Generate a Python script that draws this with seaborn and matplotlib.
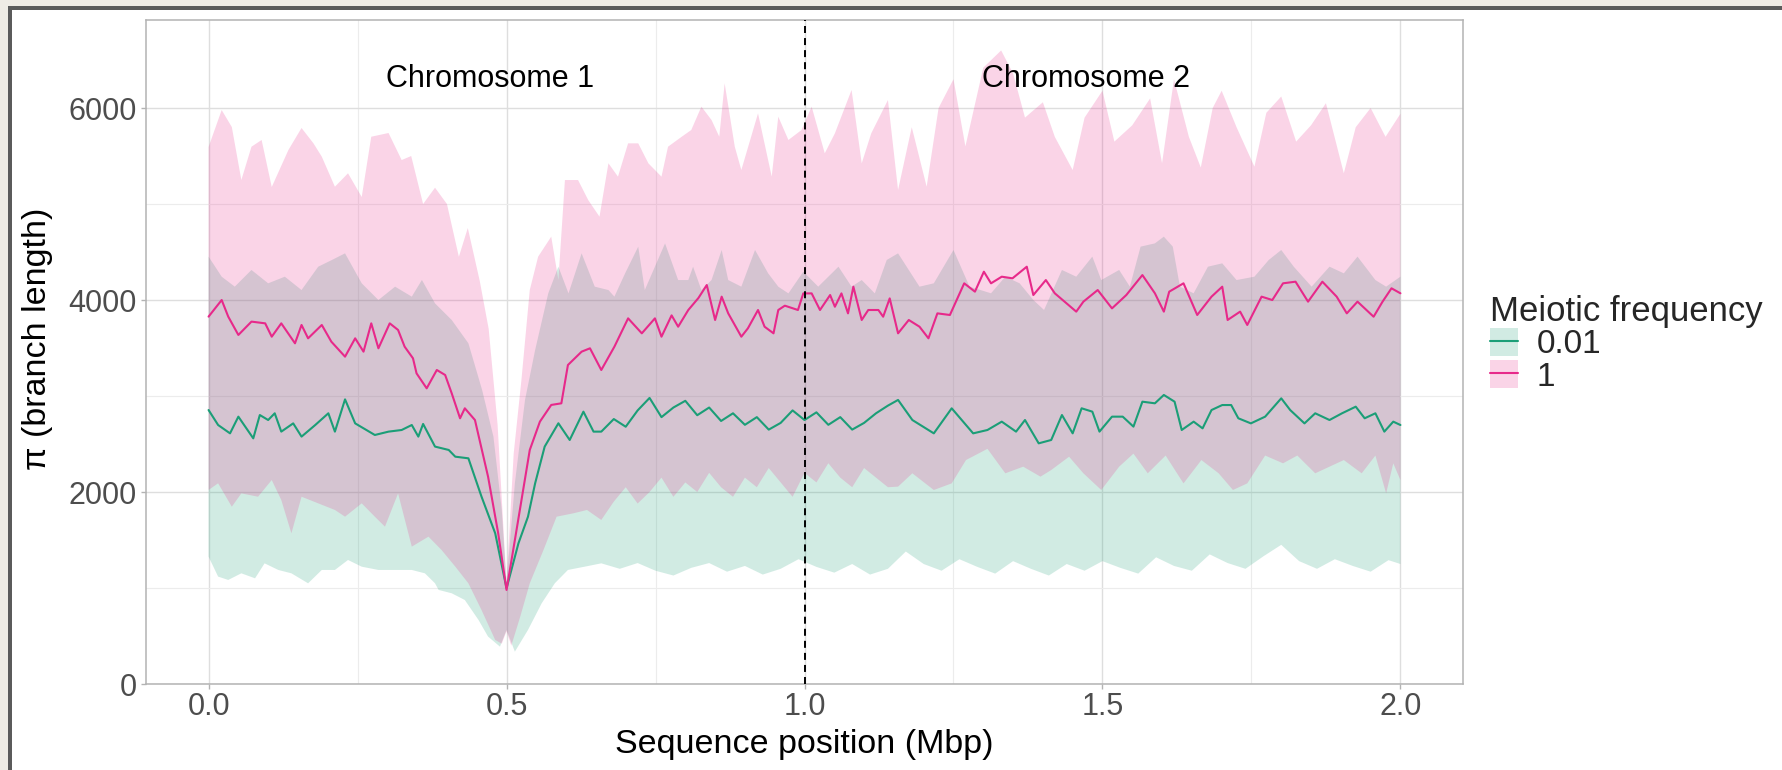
import numpy as np
import pandas as pd
import matplotlib
matplotlib.use("Agg")
import matplotlib.pyplot as plt
import seaborn as sns
from matplotlib.patches import Patch, Rectangle
from matplotlib.lines import Line2D

# ---------------- data ----------------
freq_labels = ["0.01", "1"]
line_colors = ["#1b9e77", "#e7298a"]

# mean pi, meiotic frequency 0.01
x_mean_001 = [0.000, 0.016, 0.036, 0.050, 0.075, 0.086, 0.100, 0.111, 0.122, 0.142, 0.156, 0.179,
              0.201, 0.212, 0.229, 0.246, 0.279, 0.302, 0.324, 0.341, 0.352, 0.360, 0.380, 0.403,
              0.414, 0.436, 0.458, 0.481, 0.500, 0.520, 0.536, 0.548, 0.564, 0.587, 0.606, 0.629,
              0.646, 0.659, 0.68, 0.70, 0.72, 0.74, 0.76, 0.78, 0.80, 0.82, 0.84, 0.86, 0.88, 0.90,
              0.92, 0.94, 0.96, 0.98, 1.00, 1.02, 1.04, 1.06, 1.08, 1.10, 1.12, 1.14, 1.157, 1.181,
              1.217, 1.247, 1.283, 1.307, 1.331, 1.355, 1.370, 1.393, 1.414, 1.432, 1.450, 1.465,
              1.483, 1.495, 1.516, 1.534, 1.552, 1.567, 1.588, 1.603, 1.621, 1.633, 1.653, 1.668,
              1.683, 1.701, 1.716, 1.728, 1.749, 1.773, 1.800, 1.815, 1.839, 1.857, 1.881, 1.902,
              1.925, 1.940, 1.958, 1.973, 1.988, 2.000]
y_mean_001 = [2854, 2698, 2611, 2785, 2559, 2802, 2750, 2820, 2629, 2715, 2577, 2698,
              2820, 2629, 2965, 2715, 2594, 2629, 2646, 2698, 2577, 2709, 2473, 2438,
              2368, 2351, 1952, 1570, 997, 1466, 1743, 2091, 2473, 2716, 2542, 2837,
              2629, 2629, 2760, 2680, 2850, 2980, 2780, 2880, 2950, 2800, 2880, 2740, 2820, 2700,
              2780, 2650, 2720, 2850, 2750, 2830, 2700, 2780, 2650, 2720, 2820, 2900, 2959, 2750,
              2611, 2872, 2611, 2646, 2733, 2629, 2750, 2507, 2542, 2802, 2611, 2872,
              2837, 2629, 2785, 2785, 2681, 2941, 2924, 3011, 2941, 2646, 2733, 2663,
              2854, 2906, 2906, 2768, 2715, 2785, 2976, 2854, 2715, 2820, 2750, 2820,
              2889, 2768, 2820, 2629, 2733, 2698]

# mean pi, meiotic frequency 1
x_mean_1 = [0.000, 0.022, 0.033, 0.050, 0.072, 0.095, 0.106, 0.122, 0.145, 0.156, 0.167, 0.190,
            0.206, 0.229, 0.246, 0.260, 0.273, 0.285, 0.304, 0.318, 0.329, 0.343, 0.349, 0.366,
            0.383, 0.397, 0.408, 0.422, 0.430, 0.447, 0.469, 0.486, 0.500, 0.514, 0.539, 0.556,
            0.575, 0.592, 0.603, 0.626, 0.640, 0.659, 0.681, 0.704, 0.727, 0.749, 0.760, 0.777,
            0.788, 0.805, 0.822, 0.836, 0.850, 0.861, 0.872, 0.894, 0.905, 0.922, 0.933, 0.948,
            0.956, 0.967, 0.989, 0.998, 1.012, 1.026, 1.043, 1.051, 1.062, 1.073, 1.082, 1.096,
            1.107, 1.124, 1.132, 1.143, 1.157, 1.175, 1.193, 1.208, 1.223, 1.244, 1.268, 1.286,
            1.301, 1.313, 1.331, 1.349, 1.373, 1.384, 1.405, 1.420, 1.456, 1.468, 1.492, 1.516,
            1.540, 1.567, 1.588, 1.603, 1.612, 1.636, 1.659, 1.683, 1.701, 1.710, 1.731, 1.743,
            1.767, 1.785, 1.803, 1.824, 1.845, 1.869, 1.893, 1.910, 1.928, 1.955, 1.970, 1.985,
            2.000]
y_mean_1 = [3827, 4000, 3827, 3636, 3775, 3757, 3618, 3757, 3549, 3740, 3601, 3740,
            3566, 3410, 3601, 3462, 3757, 3497, 3757, 3688, 3514, 3393, 3236, 3080,
            3271, 3219, 3028, 2768, 2872, 2750, 2160, 1570, 980, 1500, 2438, 2733,
            2907, 2924, 3323, 3462, 3497, 3271, 3514, 3809, 3653, 3809, 3618, 3840,
            3722, 3896, 4021, 4156, 3792, 4035, 3861, 3618, 3705, 3896, 3722, 3653,
            3896, 3941, 3896, 4069, 4069, 3896, 4052, 3930, 4069, 3861, 4139, 3792,
            3896, 3896, 3826, 4017, 3653, 3792, 3722, 3601, 3861, 3844, 4174, 4087,
            4295, 4174, 4243, 4226, 4347, 4052, 4208, 4070, 3879, 3983, 4104, 3913,
            4052, 4260, 4070, 3879, 4087, 4174, 3844, 4035, 4139, 3792, 3879, 3740,
            4035, 4000, 4174, 4191, 3983, 4191, 4035, 3861, 3983, 3826, 3983, 4122,
            4070]

# ribbon bounds, meiotic frequency 0.01
x_lo_001 = [0.000, 0.016, 0.033, 0.055, 0.078, 0.094, 0.117, 0.139, 0.167, 0.190, 0.212, 0.234,
            0.257, 0.285, 0.313, 0.341, 0.363, 0.380, 0.386, 0.408, 0.430, 0.453, 0.469, 0.489,
            0.500, 0.514, 0.536, 0.559, 0.581, 0.603, 0.631, 0.659, 0.69, 0.72, 0.75, 0.78,
            0.81, 0.84, 0.87, 0.90, 0.93, 0.96, 0.99, 1.02, 1.05, 1.08, 1.11, 1.14, 1.17, 1.20,
            1.23, 1.26, 1.29, 1.32, 1.35, 1.38, 1.41, 1.44, 1.47, 1.50, 1.53, 1.56, 1.59, 1.62,
            1.65, 1.68, 1.71, 1.74, 1.77, 1.80, 1.83, 1.86, 1.89, 1.92, 1.95, 1.98, 2.00]
y_lo_001 = [1327, 1119, 1084, 1153, 1101, 1257, 1188, 1153, 1049, 1188, 1188, 1292,
            1222, 1188, 1188, 1188, 1153, 1049, 980, 945, 875, 667, 494, 389,
            563, 337, 563, 841, 1049, 1188, 1222, 1257, 1200, 1260, 1180, 1130,
            1210, 1260, 1170, 1230, 1140, 1200, 1300, 1220, 1160, 1250, 1140, 1200, 1380, 1250,
            1180, 1300, 1220, 1150, 1280, 1200, 1130, 1250, 1180, 1280, 1210, 1150, 1320, 1230,
            1180, 1350, 1260, 1200, 1330, 1450, 1280, 1200, 1300, 1230, 1170, 1290, 1250]
x_hi_001 = [0.000, 0.022, 0.044, 0.072, 0.100, 0.128, 0.156, 0.184, 0.207, 0.229, 0.257, 0.285,
            0.313, 0.341, 0.358, 0.380, 0.408, 0.436, 0.459, 0.478, 0.492, 0.500, 0.514, 0.531,
            0.548, 0.570, 0.587, 0.604, 0.626, 0.648, 0.671, 0.681, 0.699, 0.721, 0.732, 0.749,
            0.766, 0.788, 0.805, 0.813, 0.827, 0.844, 0.861, 0.872, 0.894, 0.917, 0.939, 0.956,
            0.973, 0.998, 1.023, 1.040, 1.057, 1.079, 1.096, 1.118, 1.138, 1.157, 1.193, 1.217,
            1.250, 1.277, 1.313, 1.337, 1.361, 1.384, 1.402, 1.432, 1.456, 1.483, 1.498, 1.528,
            1.546, 1.564, 1.588, 1.603, 1.618, 1.630, 1.653, 1.677, 1.701, 1.725, 1.755, 1.779,
            1.800, 1.821, 1.851, 1.881, 1.905, 1.928, 1.958, 1.976, 2.000]
y_hi_001 = [4452, 4243, 4139, 4313, 4174, 4243, 4104, 4347, 4417, 4486, 4174, 4000,
            4139, 4035, 4209, 3965, 3792, 3549, 3063, 2577, 1813, 1049, 2091, 2959,
            3479, 4069, 4347, 4069, 4486, 4139, 4104, 4035, 4278, 4556, 4104, 4347,
            4590, 4208, 4208, 4347, 4104, 4208, 4521, 4208, 4139, 4521, 4278, 4139,
            4069, 4295, 4139, 4243, 4347, 4139, 4208, 4069, 4417, 4486, 4139, 4174,
            4521, 4139, 4070, 4243, 4174, 4000, 3896, 4313, 4243, 4452, 4208, 4313,
            4139, 4556, 4590, 4660, 4556, 4139, 4070, 4347, 4382, 4208, 4243, 4417,
            4521, 4347, 4139, 4347, 4278, 4452, 4208, 4139, 4243]

# ribbon bounds, meiotic frequency 1
x_lo_1 = [0.000, 0.016, 0.039, 0.055, 0.083, 0.106, 0.122, 0.139, 0.156, 0.184, 0.212, 0.229,
          0.257, 0.279, 0.296, 0.318, 0.341, 0.369, 0.391, 0.414, 0.436, 0.458, 0.481, 0.492,
          0.500, 0.508, 0.523, 0.539, 0.562, 0.584, 0.612, 0.635, 0.659, 0.68, 0.70, 0.72,
          0.74, 0.76, 0.78, 0.80, 0.82, 0.84, 0.86, 0.88, 0.90, 0.92, 0.94, 0.96, 0.98, 1.00,
          1.02, 1.04, 1.06, 1.08, 1.10, 1.12, 1.14, 1.157, 1.181, 1.217, 1.247, 1.271, 1.307,
          1.337, 1.367, 1.396, 1.414, 1.444, 1.468, 1.498, 1.528, 1.552, 1.576, 1.606, 1.636,
          1.666, 1.695, 1.719, 1.743, 1.773, 1.803, 1.827, 1.857, 1.881, 1.905, 1.935, 1.958,
          1.976, 1.988, 2.000]
y_lo_1 = [2021, 2091, 1847, 1986, 1951, 2125, 1917, 1570, 1951, 1882, 1813, 1743,
          1882, 1743, 1639, 1986, 1431, 1535, 1396, 1223, 1049, 771, 459, 420,
          550, 400, 702, 1049, 1396, 1743, 1778, 1813, 1709, 1900, 2050, 1880,
          2000, 2150, 1950, 2100, 2000, 2200, 2050, 1950, 2150, 2050, 2250, 2100, 1950, 2200,
          2100, 2300, 2150, 2050, 2250, 2150, 2050, 2056, 2195, 2021, 2090, 2333, 2450,
          2195, 2264, 2160, 2229, 2368, 2195, 2021, 2264, 2400, 2195, 2380, 2090,
          2333, 2195, 2021, 2090, 2380, 2299, 2380, 2195, 2264, 2333, 2195, 2380,
          1986, 2299, 2125]
x_hi_1 = [0.000, 0.022, 0.039, 0.055, 0.072, 0.089, 0.106, 0.134, 0.156, 0.176, 0.190, 0.212,
          0.234, 0.257, 0.273, 0.302, 0.324, 0.34, 0.36, 0.38, 0.40, 0.42, 0.435, 0.455,
          0.47, 0.485, 0.500, 0.512, 0.525, 0.539, 0.553, 0.575, 0.587, 0.598, 0.620, 0.637,
          0.656, 0.671, 0.687, 0.704, 0.721, 0.738, 0.760, 0.771, 0.794, 0.810, 0.827, 0.844,
          0.857, 0.866, 0.883, 0.894, 0.922, 0.945, 0.956, 0.973, 0.995, 1.012, 1.034, 1.051,
          1.079, 1.096, 1.112, 1.140, 1.157, 1.18, 1.205, 1.225, 1.25, 1.27, 1.30, 1.33,
          1.35, 1.37, 1.40, 1.42, 1.45, 1.47, 1.50, 1.52, 1.55, 1.58, 1.60, 1.62, 1.645,
          1.665, 1.685, 1.70, 1.725, 1.755, 1.775, 1.80, 1.825, 1.85, 1.875, 1.905, 1.925,
          1.95, 1.975, 2.00]
y_hi_1 = [5594, 5979, 5802, 5250, 5597, 5667, 5177, 5563, 5792, 5632, 5493, 5180,
          5320, 5073, 5701, 5740, 5458, 5500, 5000, 5170, 5000, 4450, 4750, 4200,
          3700, 2700, 1050, 2400, 3167, 4104, 4451, 4660, 4208, 5250, 5250, 5042,
          4868, 5424, 5285, 5632, 5632, 5424, 5285, 5597, 5701, 5771, 6014, 5875,
          5701, 6257, 5597, 5354, 5944, 5285, 5910, 5667, 5771, 6014, 5528, 5736,
          6188, 5424, 5736, 6083, 5146, 5800, 5180, 6000, 6300, 5600, 6420, 6600,
          6360, 5900, 6060, 5700, 5354, 5900, 6180, 5650, 5820, 6100, 5424, 6300, 5700,
          5380, 6000, 6180, 5800, 5389, 5950, 6120, 5650, 5820, 6050, 5320, 5800,
          6000, 5700, 5940]

x_ticks = [0.0, 0.5, 1.0, 1.5, 2.0]
x_tick_labels = ["0.0", "0.5", "1.0", "1.5", "2.0"]
y_ticks = [0, 2000, 4000, 6000]
chrom_labels = ["Chromosome 1", "Chromosome 2"]
chrom_label_x = [0.473, 1.473]

# ---------------- figure ----------------
sns.set_theme(style="white")
plt.rcParams["font.family"] = ["Liberation Sans", "DejaVu Sans"]

W, H = 1783, 770
fig = plt.figure(figsize=(W / 100, H / 100), dpi=100, facecolor="white")

# screenshot frame (beige margin + dark border on top/left)
fig.patches.append(Rectangle((0, 0), 1, 1, transform=fig.transFigure,
                             facecolor="#efece5", edgecolor="none", zorder=-30))
fig.patches.append(Rectangle((8 / W, 0), 1, 1 - 6 / H, transform=fig.transFigure,
                             facecolor="#5b5b5b", edgecolor="none", zorder=-29))
fig.patches.append(Rectangle((12 / W, 0), 1, 1 - 10 / H, transform=fig.transFigure,
                             facecolor="white", edgecolor="none", zorder=-28))

ax = fig.add_axes([146 / W, 1 - 684 / H, (1463 - 146) / W, (684 - 20) / H])
ax.set_facecolor("white")

# ribbons (0.01 first, then 1 on top)
ribbons = [(x_hi_001, y_hi_001, x_lo_001, y_lo_001), (x_hi_1, y_hi_1, x_lo_1, y_lo_1)]
for (xh, yh, xl, yl), col in zip(ribbons, line_colors):
    px = np.r_[np.asarray(xh), np.asarray(xl)[::-1]]
    py = np.r_[np.asarray(yh), np.asarray(yl)[::-1]]
    ax.fill(px, py, facecolor=col, alpha=0.2, edgecolor="none", zorder=2)

# mean lines through seaborn
df = pd.concat([
    pd.DataFrame({"pos": x_mean_001, "pi": y_mean_001, "freq": freq_labels[0]}),
    pd.DataFrame({"pos": x_mean_1, "pi": y_mean_1, "freq": freq_labels[1]}),
])
sns.lineplot(data=df, x="pos", y="pi", hue="freq", hue_order=freq_labels,
             palette=dict(zip(freq_labels, line_colors)), estimator=None,
             linewidth=1.5, legend=False, ax=ax, zorder=3)

ax.axvline(1.0, color="black", linestyle=(0, (3.6, 2.6)), linewidth=1.4, zorder=4)

for lab, xl in zip(chrom_labels, chrom_label_x):
    ax.text(xl, 6300, lab, ha="center", va="center", fontsize=22, color="black", zorder=5)

ax.set_xlim(-0.105, 2.105)
ax.set_ylim(0, 6917)
ax.set_xticks(x_ticks)
ax.set_xticklabels(x_tick_labels)
ax.set_yticks(y_ticks)
ax.set_xticks([0.25, 0.75, 1.25, 1.75], minor=True)
ax.set_yticks([1000, 3000, 5000], minor=True)
ax.grid(True, which="major", color="#dedede", linewidth=1.0, zorder=0)
ax.grid(True, which="minor", color="#ececec", linewidth=0.8, zorder=0)
ax.set_axisbelow(True)
for s in ax.spines.values():
    s.set_color("#b3b3b3")
    s.set_linewidth(1.1)
ax.tick_params(axis="both", which="major", length=3.6, width=1.0, color="#b3b3b3",
               labelsize=22, labelcolor="#4d4d4d", bottom=True, left=True)
ax.tick_params(axis="x", which="major", pad=2)
ax.tick_params(axis="y", which="major", pad=3)
ax.tick_params(which="minor", length=0)

ax.set_xlabel("Sequence position (Mbp)", fontsize=24.5, color="black", labelpad=5)
ax.set_ylabel("π (branch length)", fontsize=24.5, color="black", labelpad=10)
ax.yaxis.set_label_coords(-0.0705, 0.52)

handles = [(Patch(facecolor=c, alpha=0.2, edgecolor="none"),
            Line2D([], [], color=c, linewidth=1.5)) for c in line_colors]
leg = ax.legend(handles, freq_labels, title="Meiotic frequency", loc="upper left",
                bbox_to_anchor=(1490 / W, 1 - 295 / H), bbox_transform=fig.transFigure,
                frameon=False, fontsize=24, title_fontsize=25, alignment="left",
                handlelength=0.84, handleheight=0.9, handletextpad=0.55,
                labelspacing=0.0, borderpad=0, borderaxespad=0)

fig.savefig("out.png", dpi=100, facecolor=fig.get_facecolor())
